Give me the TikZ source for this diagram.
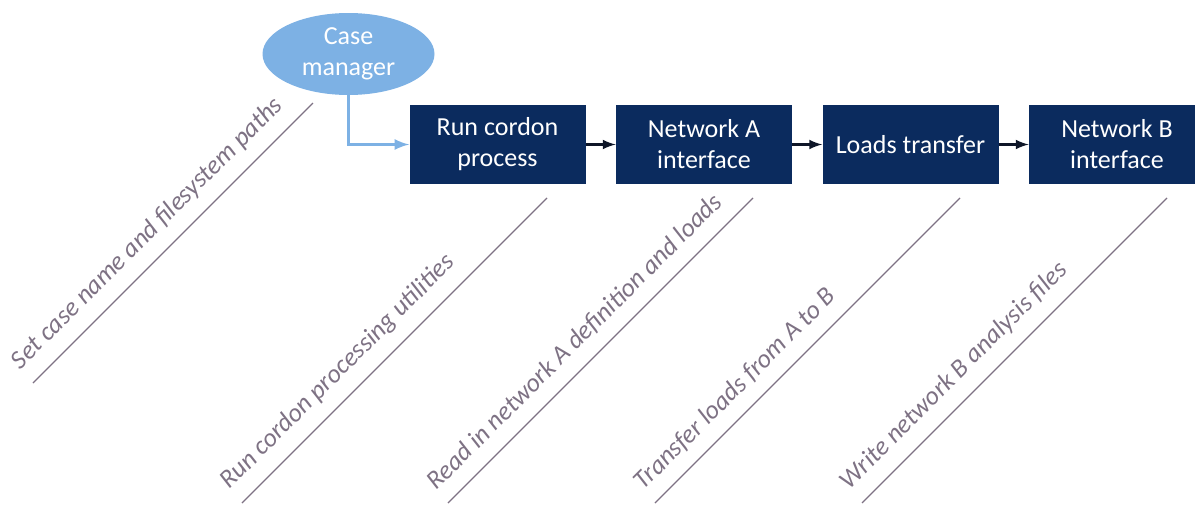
\documentclass[tikz,border=0pt]{standalone}
\usepackage{fontspec}
\setmainfont{Carlito}
\usetikzlibrary{shapes.geometric}
\definecolor{navy}{HTML}{0B2B5E}
\definecolor{skyblue}{HTML}{7DB1E4}
\definecolor{mauve}{HTML}{7E7284}
\definecolor{ink}{HTML}{0E1628}
\begin{document}
\begin{tikzpicture}[x=0.5pt, y=-0.5pt,
    every node/.style={font=\fontsize{13}{15.5}\selectfont},
    stagebox/.style={rectangle, fill=navy, text=white, minimum width=88pt,
      minimum height=39.5pt, inner sep=0pt, align=center},
    flow/.style={draw=ink, line width=1.2pt, -latex},
    note/.style={sloped, pos=0, anchor=south west, inner xsep=0pt, inner ysep=6.5pt,
      text=mauve, font=\fontsize{13}{15.5}\selectfont\itshape}]
        \useasboundingbox (0, 0) rectangle (1195, 504);
        \clip (0, 0) rectangle (1195, 504);

        \node[ellipse, fill=skyblue, text=white, minimum width=86pt, minimum height=41pt,
          inner sep=0pt, align=center] (manager) at (348.5, 54) {Case\\manager};

        \node[stagebox] (process) at (497.5, 144.5) {Run cordon\\process};
        \node[stagebox] (netA) at (704, 144.5) {Network A\\interface};
        \node[stagebox] (loads) at (910.5, 144.5) {Loads transfer};
        \node[stagebox] (netB) at (1117, 144.5) {Network B\\interface};

        \draw[draw=skyblue, line width=1.5pt, -latex] (manager.south) |- (process.west);
        \draw[flow] (process) -- (netA);
        \draw[flow] (netA) -- (loads);
        \draw[flow] (loads) -- (netB);

        % notes under each step
        \coordinate (s1) at (33, 383);   \coordinate (e1) at (313, 103);
        \coordinate (s2) at (242, 503);  \coordinate (e2) at (547, 198);
        \coordinate (s3) at (448, 503);  \coordinate (e3) at (753, 198);
        \coordinate (s4) at (655, 503);  \coordinate (e4) at (960, 198);
        \coordinate (s5) at (862, 503);  \coordinate (e5) at (1167, 198);
        \draw[mauve, line width=0.6pt] (s1) -- node[note] {Set case name and filesystem paths} (e1);
        \draw[mauve, line width=0.6pt] (s2) -- node[note] {Run cordon processing utilities} (e2);
        \draw[mauve, line width=0.6pt] (s3) -- node[note] {Read in network A definition and loads} (e3);
        \draw[mauve, line width=0.6pt] (s4) -- node[note] {Transfer loads from A to B} (e4);
        \draw[mauve, line width=0.6pt] (s5) -- node[note] {Write network B analysis files} (e5);
\end{tikzpicture}
\end{document}
